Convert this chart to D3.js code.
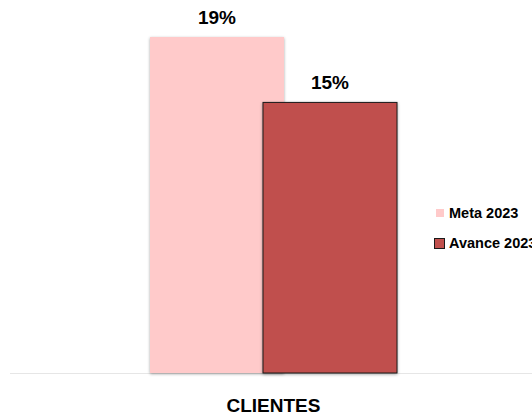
<!DOCTYPE html>
<html>
<head>
<meta charset="utf-8">
<script src="https://cdn.jsdelivr.net/npm/d3@7"></script>
<style>
  body { margin: 0; background: #fff; }
  text { font-family: "Liberation Sans", Arial, sans-serif; font-weight: bold; fill: #000; }
</style>
</head>
<body>
<div id="chart"></div>
<script>
// data
var categories = ["CLIENTES"];
var seriesNames = ["Meta 2023", "Avance 2023"];
var metaValues = [0.19];
var avanceValues = [0.153];
var seriesColors = ["#FFCACA", "#C0504D"];
var seriesStroke = ["none", "#1a1a1a"];

var svgWidth = 532, svgHeight = 416;
var margin = {top: 37, right: 0, bottom: 43, left: 15};
var height = svgHeight - margin.top - margin.bottom;

var svg = d3.select("#chart").append("svg")
    .attr("width", svgWidth)
    .attr("height", svgHeight);

// soft shadow like the office chart
var defs = svg.append("defs");
var f = defs.append("filter").attr("id", "shadow")
    .attr("x", "-10%").attr("y", "-10%").attr("width", "120%").attr("height", "120%");
f.append("feDropShadow").attr("dx", 0).attr("dy", 1).attr("stdDeviation", 1.5)
    .attr("flood-color", "#000").attr("flood-opacity", 0.35);

var x0 = d3.scaleBand().domain(categories).range([margin.left, svgWidth]);
// bars overlap, so offsets go from a point scale instead of a nested band
var x1 = d3.scalePoint().domain(seriesNames).range([-56.5, 56.5]);
var barW = 134;

var y = d3.scaleLinear().domain([0, 0.19]).range([margin.top + height, margin.top]);

// baseline
svg.append("line")
    .attr("x1", 10).attr("x2", svgWidth)
    .attr("y1", y(0) + 0.5).attr("y2", y(0) + 0.5)
    .attr("stroke", "#e6e6e6").attr("stroke-width", 1);

var rows = [];
categories.forEach(function(c, i) {
  rows.push({cat: c, s: 0, v: metaValues[i]});
  rows.push({cat: c, s: 1, v: avanceValues[i]});
});

var fmt = d3.format(".0%");

rows.forEach(function(d) {
  var cx = x0(d.cat) + x0.bandwidth() / 2 + x1(seriesNames[d.s]);
  svg.append("rect")
      .attr("x", cx - barW / 2)
      .attr("y", y(d.v))
      .attr("width", barW)
      .attr("height", y(0) - y(d.v))
      .attr("fill", seriesColors[d.s])
      .attr("stroke", seriesStroke[d.s])
      .attr("stroke-width", 1)
      .attr("filter", "url(#shadow)");
  svg.append("text")
      .attr("x", cx)
      .attr("y", y(d.v) - 13)
      .attr("text-anchor", "middle")
      .style("font-size", "19px")
      .text(fmt(d.v));
});

// category label
svg.selectAll(".cat").data(categories).enter().append("text")
    .attr("x", function(d) { return x0(d) + x0.bandwidth() / 2; })
    .attr("y", 412)
    .attr("text-anchor", "middle")
    .style("font-size", "19px")
    .text(function(d) { return d; });

// legend (the second entry runs past the right edge, as in the original)
var leg = svg.selectAll(".leg").data(seriesNames).enter().append("g")
    .attr("transform", function(d, i) { return "translate(434," + (213 + i * 30) + ")"; });
leg.append("rect")
    .attr("x", function(d, i) { return i === 0 ? 2 : 0.5; })
    .attr("y", function(d, i) { return i === 0 ? -4 : -4.5; })
    .attr("width", function(d, i) { return i === 0 ? 8 : 10; })
    .attr("height", function(d, i) { return i === 0 ? 8 : 10; })
    .attr("fill", function(d, i) { return seriesColors[i]; })
    .attr("stroke", function(d, i) { return seriesStroke[i]; });
leg.append("text")
    .attr("x", 15)
    .attr("y", 5)
    .style("font-size", "14.5px")
    .text(function(d) { return d; });
</script>
</body>
</html>
